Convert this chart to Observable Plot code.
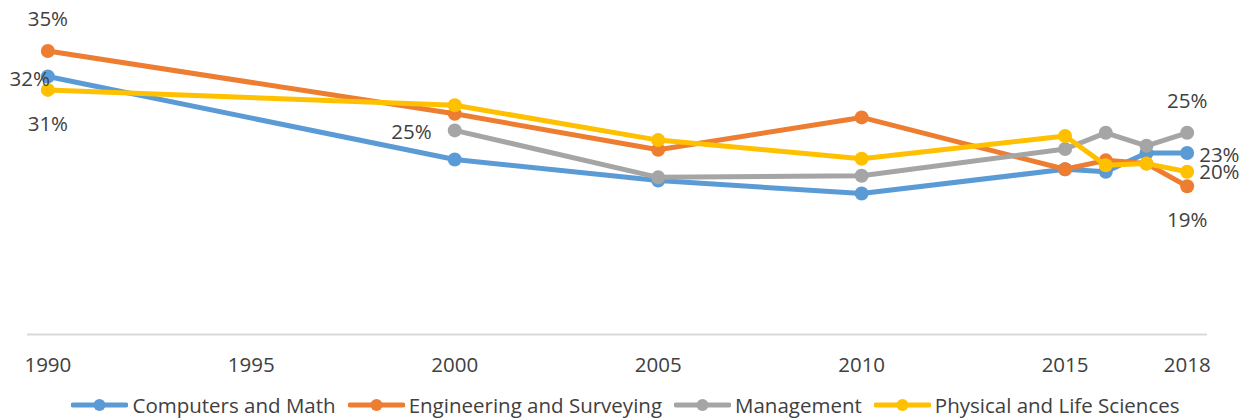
<!DOCTYPE html>
<html>
<head>
<meta charset="utf-8">
<script src="https://cdn.jsdelivr.net/npm/d3@7"></script>
<script src="https://cdn.jsdelivr.net/npm/@observablehq/plot@0.6"></script>
<style>
  html, body { margin: 0; padding: 0; background: #fff; }
  body { width: 1250px; height: 418px; overflow: hidden; font-family: "Open Sans", sans-serif; color: #404040; }
  #legend { display: flex; justify-content: center; align-items: center; height: 38px; margin-top: 6px; padding-left: 13px; font-size: 20.5px; color: #404040; white-space: nowrap; }
  .item { display: flex; align-items: center; margin-right: 12px; }
  .item svg { margin-right: 4px; }
</style>
</head>
<body>
<div id="chart"></div>
<div id="legend"></div>
<script>
// ---- data ----
const years = [1990, 2000, 2005, 2010, 2015, 2016, 2017, 2018];
const seriesNames = ["Computers and Math", "Engineering and Surveying", "Management", "Physical and Life Sciences"];
const computersMath = [31.85, 21.6, 19.0, 17.4, 20.4, 20.1, 22.4, 22.4];
const engineering   = [35.0, 27.25, 22.8, 26.8, 20.4, 21.5, 21.1, 18.3];
const management    = [null, 25.2, 19.4, 19.6, 22.9, 24.9, 23.3, 24.9];
const physicalLife  = [30.2, 28.3, 24.0, 21.7, 24.5, 20.9, 21.1, 20.1];
const tickYears = [1990, 1995, 2000, 2005, 2010, 2015, 2018];
const colors = ["#5B9BD5", "#ED7D31", "#A5A5A5", "#FFC000"];

// data labels
const labelSeries = ["Engineering and Surveying", "Computers and Math", "Physical and Life Sciences", "Management",
                     "Management", "Computers and Math", "Physical and Life Sciences", "Engineering and Surveying"];
const labelYears  = [1990, 1990, 1990, 2000, 2018, 2018, 2018, 2018];
const labelTexts  = ["35%", "32%", "31%", "25%", "25%", "23%", "20%", "19%"];

// ---- build table ----
const valuesBySeries = [computersMath, engineering, management, physicalLife];
const rows = [];
seriesNames.forEach((s, i) => {
  years.forEach((yr, j) => {
    const v = valuesBySeries[i][j];
    if (v != null) rows.push({series: s, year: yr, value: v});
  });
});

// label placement (style, not data)
const placement = [
  {anchor: "middle", dx: 0, dy: -32},
  {anchor: "end", dx: 2, dy: 3},
  {anchor: "middle", dx: 0, dy: 35},
  {anchor: "end", dx: -23, dy: 2},
  {anchor: "middle", dx: 0, dy: -31},
  {anchor: "start", dx: 12, dy: 2},
  {anchor: "start", dx: 12, dy: 1},
  {anchor: "middle", dx: 0, dy: 34}
];

const marks = [Plot.ruleY([0], {stroke: "#d9d9d9", strokeWidth: 2})];
seriesNames.forEach((s, i) => {
  const d = rows.filter(r => r.series === s);
  marks.push(Plot.line(d, {x: "year", y: "value", stroke: colors[i], strokeWidth: 5, strokeLinejoin: "round", strokeLinecap: "round"}));
  marks.push(Plot.dot(d, {x: "year", y: "value", fill: colors[i], r: 7, stroke: "none"}));
});
labelTexts.forEach((t, k) => {
  const row = rows.find(r => r.series === labelSeries[k] && r.year === labelYears[k]);
  const p = placement[k];
  marks.push(Plot.text([row], {x: "year", y: "value", text: () => t, textAnchor: p.anchor, dx: p.dx, dy: p.dy, fill: "#404040", fontSize: 20.5}));
});
marks.push(Plot.axisX({ticks: tickYears, tickFormat: d => String(d), tickSize: 0, tickPadding: 23, fontSize: 20.5, fill: "#404040", label: null}));

const chart = Plot.plot({
  width: 1250,
  height: 380,
  marginLeft: 27,
  marginRight: 43,
  marginTop: 10,
  marginBottom: 46,
  style: {fontFamily: "Open Sans, sans-serif", fontSize: "20.5px", color: "#404040", background: "#fff"},
  x: {domain: [1989.5, 2018.5], axis: null, label: null},
  y: {domain: [0, 40], axis: null, label: null},
  marks
});
document.getElementById("chart").appendChild(chart);

// ---- legend ----
const legend = document.getElementById("legend");
seriesNames.forEach((s, i) => {
  const item = document.createElement("div");
  item.className = "item";
  item.innerHTML = `<svg width="57" height="14"><line x1="2" y1="7" x2="55" y2="7" stroke="${colors[i]}" stroke-width="5" stroke-linecap="round"/><circle cx="28.5" cy="7" r="6" fill="${colors[i]}"/></svg><span>${s}</span>`;
  legend.appendChild(item);
});
</script>
</body>
</html>
